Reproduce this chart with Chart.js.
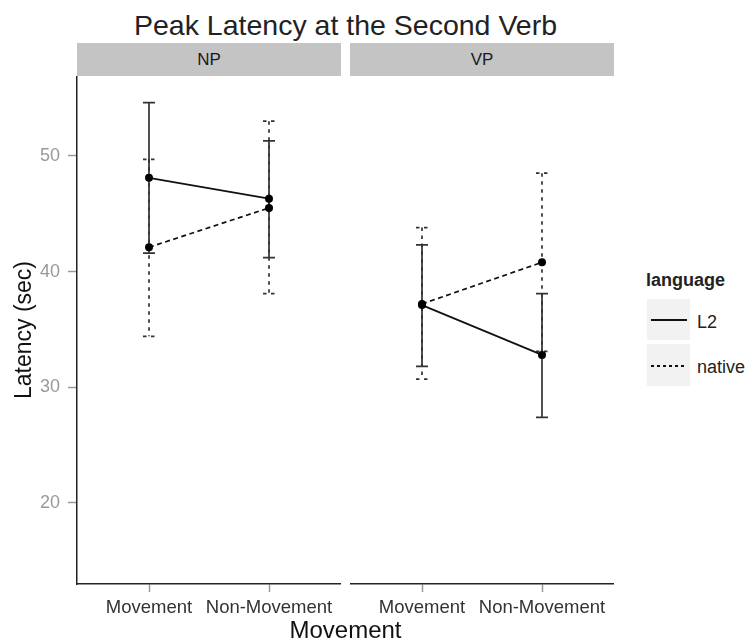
<!DOCTYPE html>
<html>
<head>
<meta charset="utf-8">
<script src="https://cdn.jsdelivr.net/npm/chart.js@4.4.1/dist/chart.umd.min.js"></script>
<style>
  body { margin: 0; background: #fff; font-family: "Liberation Sans", Arial, Helvetica, sans-serif; }
  #page { position: relative; width: 748px; height: 643px; overflow: hidden; background: #fff; }
  .abs { position: absolute; }
  #title { left: 45px; width: 601px; top: 8px; line-height: 34px; font-size: 28.5px; text-align: center; color: #222; white-space: nowrap; }
  .strip { top: 43px; height: 33px; line-height: 33px; width: 264px; background: #c4c4c4; text-align: center; font-size: 17px; color: #1a1a1a; }
  #xtitle { left: 45px; width: 601px; top: 616px; line-height: 28px; font-size: 24px; text-align: center; color: #111; }
  #legtitle { left: 646px; top: 269px; line-height: 22px; font-size: 18px; font-weight: bold; color: #222; }
  .key { left: 647px; width: 43px; background: #f2f2f2; }
  .keyline { position: absolute; left: 4px; width: 36px; height: 2px; }
  .keylabel { left: 697px; line-height: 22px; font-size: 18px; color: #222; }
  canvas { position: absolute; }
</style>
</head>
<body>
<div id="page">
  <div id="title" class="abs">Peak Latency at the Second Verb</div>
  <div class="abs strip" style="left:77px">NP</div>
  <div class="abs strip" style="left:350px">VP</div>
  <canvas id="npChart" width="341" height="567" style="left:0px;top:76px"></canvas>
  <canvas id="vpChart" width="264" height="567" style="left:350px;top:76px"></canvas>
  <div id="xtitle" class="abs">Movement</div>

  <div id="legtitle" class="abs">language</div>
  <div class="abs key" style="top:299px;height:41px">
    <div class="keyline" style="top:20px;background:#111"></div>
  </div>
  <div class="abs keylabel" style="top:311px">L2</div>
  <div class="abs key" style="top:344px;height:42px">
    <div class="keyline" style="top:21px;background:repeating-linear-gradient(to right,#111 0 3px,transparent 3px 6px)"></div>
  </div>
  <div class="abs keylabel" style="top:356px">native</div>
</div>

<script>
// categories on the x axis of each panel
const categories = ["Movement", "Non-Movement"];
const yTicks = [20, 30, 40, 50];
const yMin = 13.0;
const yMax = 56.9;

// NP panel
const l2MeanNP = [48.1, 46.3];
const l2LowNP = [41.6, 41.2];
const l2HighNP = [54.6, 51.3];
const nativeMeanNP = [42.1, 45.5];
const nativeLowNP = [34.4, 38.1];
const nativeHighNP = [49.7, 53.0];

// VP panel
const l2MeanVP = [37.1, 32.8];
const l2LowVP = [31.8, 27.4];
const l2HighVP = [42.3, 38.1];
const nativeMeanVP = [37.2, 40.8];
const nativeLowVP = [30.7, 33.1];
const nativeHighVP = [43.8, 48.5];

Chart.defaults.font.family = '"Liberation Sans", Arial, Helvetica, sans-serif';

// draws the error bars (with caps) under the lines, using the chart's scales
function errorBars(bars) {
  return {
    id: "errorBars",
    beforeDatasetsDraw(chart) {
      const ctx = chart.ctx;
      const xs = chart.scales.x;
      const ys = chart.scales.y;
      bars.forEach((bar) => {
        ctx.save();
        ctx.strokeStyle = "#333";
        ctx.lineWidth = 1.7;
        ctx.setLineDash(bar.dash);
        bar.low.forEach((lo, i) => {
          const px = xs.getPixelForValue(i + 1);
          const top = ys.getPixelForValue(bar.high[i]);
          const bottom = ys.getPixelForValue(lo);
          ctx.beginPath();
          ctx.moveTo(px, top);
          ctx.lineTo(px, bottom);
          ctx.moveTo(px - 6, top);
          ctx.lineTo(px + 6, top);
          ctx.moveTo(px - 6, bottom);
          ctx.lineTo(px + 6, bottom);
          ctx.stroke();
        });
        ctx.restore();
      });
    },
  };
}

function toPoints(values) {
  return values.map((v, i) => ({ x: i + 1, y: v }));
}

// no label padding: the panel must fill its canvas exactly
function noPadding(s) {
  s.paddingLeft = 0;
  s.paddingRight = 0;
  s.paddingTop = 0;
  s.paddingBottom = 0;
}

function makePanel(canvasId, showY, l2Mean, l2Low, l2High, nativeMean, nativeLow, nativeHigh) {
  return new Chart(document.getElementById(canvasId), {
    type: "line",
    data: {
      datasets: [
        {
          label: "L2",
          data: toPoints(l2Mean),
          borderColor: "#111",
          borderWidth: 1.7,
          pointRadius: 4,
          pointBackgroundColor: "#000",
          pointBorderWidth: 0,
        },
        {
          label: "native",
          data: toPoints(nativeMean),
          borderColor: "#111",
          borderWidth: 1.7,
          borderDash: [5, 3.5],
          pointRadius: 4,
          pointBackgroundColor: "#000",
          pointBorderWidth: 0,
        },
      ],
    },
    options: {
      responsive: false,
      animation: false,
      events: [],
      clip: false,
      layout: { padding: 0, autoPadding: false },
      plugins: {
        legend: { display: false },
        tooltip: { enabled: false },
      },
      scales: {
        x: {
          type: "linear",
          min: 0.4,
          max: 2.6,
          afterBuildTicks: (s) => {
            s.ticks = categories.map((c, i) => ({ value: i + 1 }));
          },
          afterFit: (s) => {
            s.height = 59;
            noPadding(s);
          },
          ticks: {
            callback: (v) => categories[v - 1],
            color: "#333",
            font: { size: 18.5 },
            padding: 5,
            maxRotation: 0,
            autoSkip: false,
          },
          grid: { drawOnChartArea: false, tickLength: 8, tickColor: "#999", tickWidth: 1.5 },
          border: { color: "#222", width: 1.5 },
        },
        y: {
          display: showY,
          min: yMin,
          max: yMax,
          afterBuildTicks: (s) => {
            s.ticks = yTicks.map((v) => ({ value: v }));
          },
          afterFit: (s) => {
            s.width = showY ? 77 : 0;
            noPadding(s);
          },
          ticks: { color: "#999", font: { size: 18 }, padding: 8 },
          grid: { drawOnChartArea: false, tickLength: 9, tickColor: "#999", tickWidth: 1.5 },
          border: { color: "#222", width: 1.5 },
          title: {
            display: true,
            text: "Latency (sec)",
            color: "#111",
            font: { size: 23 },
            padding: { top: 11, bottom: 0 },
          },
        },
      },
    },
    plugins: [
      errorBars([
        { low: nativeLow, high: nativeHigh, dash: [3.5, 4.5] },
        { low: l2Low, high: l2High, dash: [] },
      ]),
    ],
  });
}

const npChart = makePanel("npChart", true, l2MeanNP, l2LowNP, l2HighNP, nativeMeanNP, nativeLowNP, nativeHighNP);
const vpChart = makePanel("vpChart", false, l2MeanVP, l2LowVP, l2HighVP, nativeMeanVP, nativeLowVP, nativeHighVP);
</script>
</body>
</html>
